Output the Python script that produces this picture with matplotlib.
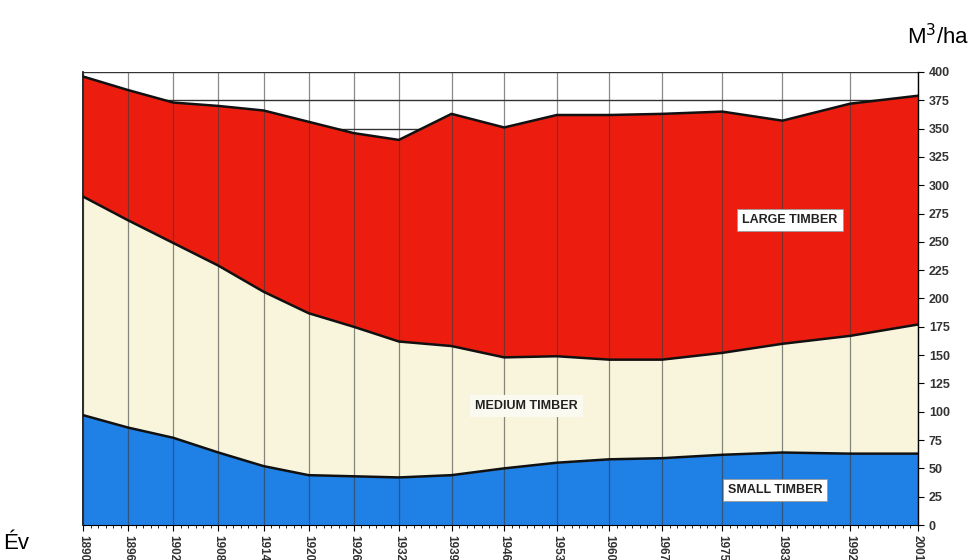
#!/usr/bin/env python3
"""
Stacked timber volume chart (small / medium / large timber, M3/ha by year).
"""

import numpy as np
import matplotlib
matplotlib.use("Agg")
import matplotlib.pyplot as plt

# Survey years and the cumulative upper edge of each layer (M3/ha)
years = [1890, 1896, 1902, 1908, 1914, 1920, 1926, 1932, 1939,
         1946, 1953, 1960, 1967, 1975, 1983, 1992, 2001]
small_top = [97, 86, 77, 64, 52, 44, 43, 42, 44,
             50, 55, 58, 59, 62, 64, 63, 63]
medium_top = [290, 269, 249, 229, 206, 187, 175, 162, 158,
              148, 149, 146, 146, 152, 160, 167, 177]
total_top = [396, 384, 373, 370, 366, 356, 346, 340, 363,
             351, 362, 362, 363, 365, 357, 372, 379]

y_ticks = list(range(0, 401, 25))

RED = "#ec1d0f"
CREAM = "#f8f5dc"
BLUE = "#1f80e6"


def main():
    plt.rcParams["font.family"] = ["Liberation Sans", "DejaVu Sans"]

    fig = plt.figure(figsize=(9.73, 5.6), dpi=100)
    ax = fig.add_axes([0.0853, 0.0625, 0.858, 0.809])

    x = np.array(years)
    zero = np.zeros(len(x))

    ax.fill_between(x, zero, small_top, color=BLUE, lw=0, zorder=1)
    ax.fill_between(x, small_top, medium_top, color=CREAM, lw=0, zorder=1)
    ax.fill_between(x, medium_top, total_top, color=RED, lw=0, zorder=1)

    for top in (small_top, medium_top, total_top):
        ax.plot(x, top, color="#111111", lw=1.8, zorder=4)

    # grid: horizontal lines only visible above the fill
    for yv in (350, 375, 400):
        ax.axhline(yv, color="#333333", lw=1.0, zorder=0.5)
    for yr in years:
        ax.axvline(yr, color="#3a3a3a", lw=0.9, alpha=0.6, zorder=3)

    ax.set_xlim(years[0], years[-1])
    ax.set_ylim(0, 400)

    ax.set_xticks(years)
    ax.set_xticklabels([str(y) for y in years], rotation=-90,
                       fontsize=8.5, fontweight="bold", color="#333333")
    ax.set_xticks(np.arange(years[0], years[-1] + 1, 1), minor=True)
    ax.tick_params(axis="x", which="major", length=4, width=0.8, pad=3)
    ax.tick_params(axis="x", which="minor", length=2.5, width=0.6)

    ax.yaxis.tick_right()
    ax.set_yticks(y_ticks)
    ax.set_yticklabels([str(v) for v in y_ticks], fontsize=9,
                       fontweight="bold", color="#333333")
    ax.tick_params(axis="y", length=4, width=0.8, pad=4)

    ax.spines["top"].set_visible(False)
    ax.spines["left"].set_linewidth(1.2)
    ax.spines["right"].set_linewidth(1.0)
    ax.spines["bottom"].set_linewidth(0.8)

    box = dict(boxstyle="square,pad=0.4", fc="white", ec="#999999", lw=0.6)
    ax.text(1984, 269, "LARGE TIMBER", ha="center", va="center",
            fontsize=9, fontweight="bold", color="#222222", bbox=box, zorder=5)
    ax.text(1982, 31, "SMALL TIMBER", ha="center", va="center",
            fontsize=9, fontweight="bold", color="#222222", bbox=box, zorder=5)
    ax.text(1949, 105, "MEDIUM TIMBER", ha="center", va="center",
            fontsize=9, fontweight="bold", color="#222222",
            bbox=dict(boxstyle="square,pad=0.4", fc="#fbfaf0", ec="none"),
            zorder=5)

    fig.text(0.996, 0.935, "M$^3$/ha", ha="right", va="center", fontsize=16)
    fig.text(0.003, 0.03, "Év", ha="left", va="center", fontsize=16)

    fig.savefig("out.png", dpi=100)
    plt.close(fig)


if __name__ == "__main__":
    main()
